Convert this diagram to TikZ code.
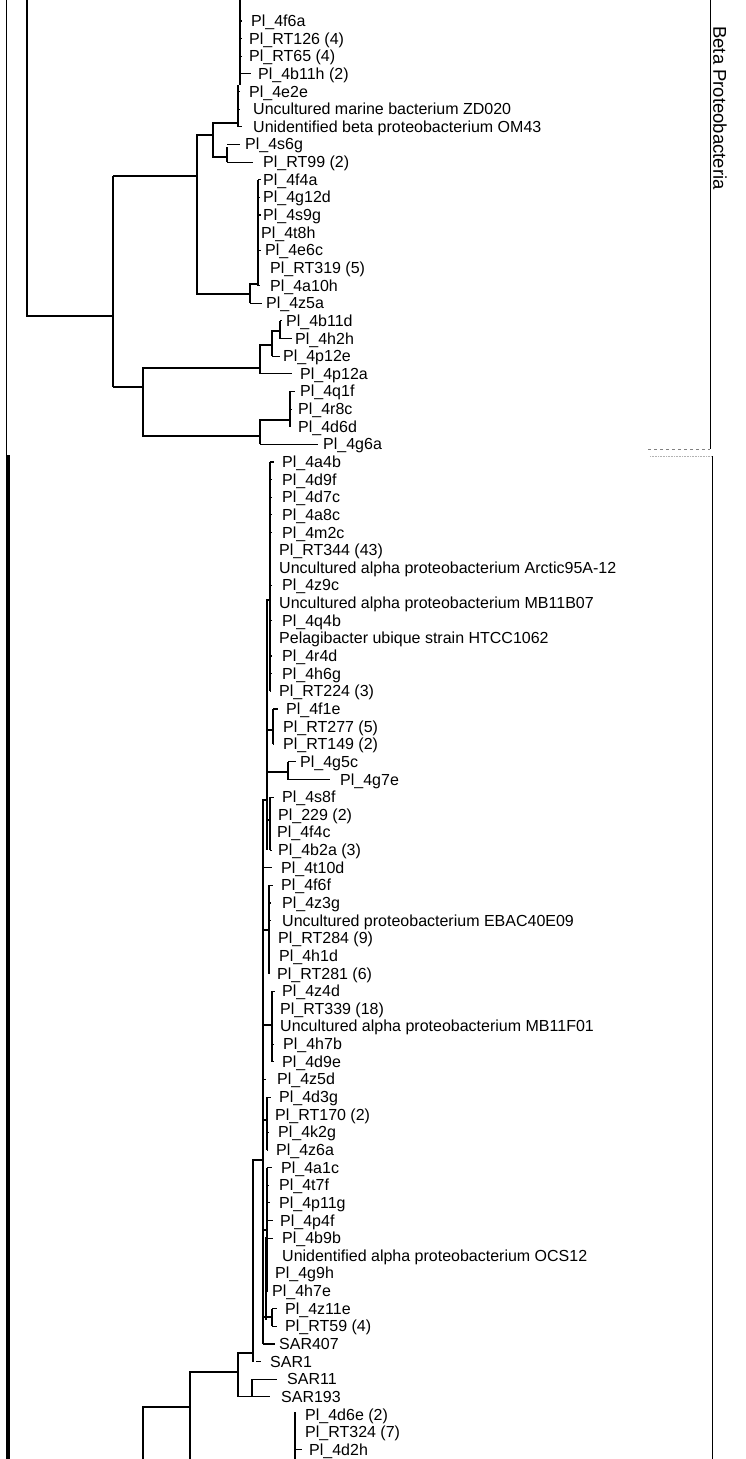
\documentclass[tikz,border=0pt]{standalone}
\usepackage{fontspec}
\setmainfont{Liberation Sans}
\newcommand\leaffont{\fontsize{16}{18}\selectfont}
% name, row, branch start x, branch end x, text x, text
\newcommand\tleaf[6]{\node[leaf] (#1) at (#5,{21+17.64*(#2)}) {#6};\draw[br] (#3,{21+17.64*(#2)}) -- (#4,{21+17.64*(#2)});}
\begin{document}
\begin{tikzpicture}[x=1pt,y=-1pt,
  br/.style={line width=1.1pt},
  leaf/.style={anchor=west,inner xsep=0pt,inner ysep=0pt,text height=11pt,text depth=0pt,font=\leaffont}]
\useasboundingbox (0,0) rectangle (746,1459);
\clip (0,0) rectangle (746,1459);
\fill[white] (0,0) rectangle (746,1459);
% left edge lines
\draw[line width=1pt] (6,0) -- (6,455);
\draw[line width=4.5pt] (8,455) -- (8,1462);
% right brackets
\draw[line width=0.8pt] (710,0) -- (710,449);
\draw[gray,dashed,line width=0.8pt] (648,449) -- (710,449);
\draw[gray!60,densely dotted,line width=0.6pt] (650,456) -- (712,456);
\draw[line width=0.8pt] (712,456) -- (712,1462);
\node[rotate=-90,font=\fontsize{18.5}{20}\selectfont] (beta) at (720,108) {Beta Proteobacteria};
% ---------------- Beta part: internal branches
\draw[br] (27,-3) -- (27,316) -- (113,316);
\draw[br] (113,176) -- (113,387);
\draw[br] (113,176) -- (197,176);
\draw[br] (213,135) -- (197,135) -- (197,294) -- (250,294);
\draw[br] (238,123) -- (213,123) -- (213,157) -- (227,157);
\draw[br] (227,147) -- (227,162.12);
\draw[br] (240,-3) -- (240,85);
\draw[br] (238,85) -- (238,126.84);
\draw[br] (258,284) -- (250,284) -- (250,303.24);
\draw[br] (258,179.76) -- (258,285.6);
\draw[br] (113,387) -- (143,387);
\draw[br] (260,368) -- (143,368) -- (143,436) -- (260,436);
\draw[br] (272,345) -- (260,345) -- (260,373.8);
\draw[br] (280,331) -- (272,331) -- (272,356.16);
\draw[br] (280,320.88) -- (280,338.52);
\draw[br] (290,420) -- (260,420) -- (260,444.36);
\draw[br] (290,391.44) -- (290,426.72);
% Beta leaves
\tleaf{l0}{0}{240}{242}{251}{Pl\_4f6a}
\tleaf{l1}{1}{240}{242}{249}{Pl\_RT126 (4)}
\tleaf{l2}{2}{240}{242}{249}{Pl\_RT65 (4)}
\tleaf{l3}{3}{240}{251}{258}{Pl\_4b11h (2)}
\tleaf{l4}{4}{238}{240}{249}{Pl\_4e2e}
\tleaf{l5}{5}{238}{240}{253}{Uncultured marine bacterium ZD020}
\tleaf{l6}{6}{238}{242}{253}{Unidentified beta proteobacterium OM43}
\tleaf{l7}{7}{227}{240}{245}{Pl\_4s6g}
\tleaf{l8}{8}{227}{253}{263}{Pl\_RT99 (2)}
\tleaf{l9}{9}{258}{261}{263}{Pl\_4f4a}
\tleaf{l10}{10}{258}{260}{263}{Pl\_4g12d}
\tleaf{l11}{11}{258}{261}{263}{Pl\_4s9g}
\tleaf{l12}{12}{258}{259}{261}{Pl\_4t8h}
\tleaf{l13}{13}{258}{261}{265}{Pl\_4e6c}
\tleaf{l14}{14}{258}{259}{270}{Pl\_RT319 (5)}
\tleaf{l15}{15}{258}{260}{270}{Pl\_4a10h}
\tleaf{l16}{16}{250}{262}{266}{Pl\_4z5a}
\tleaf{l17}{17}{280}{282}{286}{Pl\_4b11d}
\tleaf{l18}{18}{280}{292}{295}{Pl\_4h2h}
\tleaf{l19}{19}{272}{280}{283}{Pl\_4p12e}
\tleaf{l20}{20}{260}{292}{300}{Pl\_4p12a}
\tleaf{l21}{21}{290}{295}{300}{Pl\_4q1f}
\tleaf{l22}{22}{290}{292}{298}{Pl\_4r8c}
\tleaf{l23}{23}{290}{291}{298}{Pl\_4d6d}
\tleaf{l24}{24}{260}{318}{323}{Pl\_4g6a}
% ---------------- Alpha part: internal branches
\draw[br] (270,462) -- (270,691.3);
\draw[br] (270,600) -- (267,600) -- (267,850);
\draw[br] (267,730) -- (273,730);
\draw[br] (273,709) -- (273,744.2);
\draw[br] (267,772) -- (288,772);
\draw[br] (288,762.1) -- (288,779.8);
\draw[br] (267,820) -- (270,820);
\draw[br] (270,797.2) -- (270,850);
\draw[br] (267,800) -- (263,800) -- (263,1344);
\draw[br] (263,930) -- (269,930);
\draw[br] (269,885.4) -- (269,973.6);
\draw[br] (263,1025) -- (272,1025);
\draw[br] (272,991) -- (272,1061.8);
\draw[br] (263,1120) -- (267,1120);
\draw[br] (267,1097) -- (267,1150);
\draw[br] (263,1230) -- (267,1230);
\draw[line width=2pt] (266,1237) -- (266,1320);
\draw[br] (267,1167.6) -- (267,1291);
\draw[br] (263,1317) -- (272,1317);
\draw[br] (272,1308.7) -- (272,1326.4);
\draw[br] (263,1160) -- (253,1160) -- (253,1361.6);
\draw[br] (253,1353) -- (238,1353) -- (238,1396.9) -- (252,1396.9);
\draw[br] (252,1379.3) -- (252,1396.9);
\draw[br] (238,1372) -- (190,1372) -- (190,1462);
\draw[br] (190,1407) -- (143,1407) -- (143,1462);
\draw[line width=1.6pt] (295,1412) -- (295,1462);
% Alpha leaves
\tleaf{l25}{25}{270}{274}{282}{Pl\_4a4b}
\tleaf{l26}{26}{270}{272}{282}{Pl\_4d9f}
\tleaf{l27}{27}{270}{272}{282}{Pl\_4d7c}
\tleaf{l28}{28}{270}{272}{282}{Pl\_4a8c}
\tleaf{l29}{29}{270}{272}{282}{Pl\_4m2c}
\tleaf{l30}{30}{270}{271}{279}{Pl\_RT344 (43)}
\tleaf{l31}{31}{270}{271}{279}{Uncultured alpha proteobacterium Arctic95A-12}
\tleaf{l32}{32}{270}{272}{282}{Pl\_4z9c}
\tleaf{l33}{33}{270}{271}{279}{Uncultured alpha proteobacterium MB11B07}
\tleaf{l34}{34}{270}{272}{282}{Pl\_4q4b}
\tleaf{l35}{35}{270}{271}{279}{Pelagibacter ubique strain HTCC1062}
\tleaf{l36}{36}{270}{272}{282}{Pl\_4r4d}
\tleaf{l37}{37}{270}{272}{282}{Pl\_4h6g}
\tleaf{l38}{38}{270}{271}{279}{Pl\_RT224 (3)}
\tleaf{l39}{39}{273}{278}{286}{Pl\_4f1e}
\tleaf{l40}{40}{273}{274}{283}{Pl\_RT277 (5)}
\tleaf{l41}{41}{273}{274}{283}{Pl\_RT149 (2)}
\tleaf{l42}{42}{288}{296}{300}{Pl\_4g5c}
\tleaf{l43}{43}{288}{330}{340}{Pl\_4g7e}
\tleaf{l44}{44}{270}{274}{282}{Pl\_4s8f}
\tleaf{l45}{45}{270}{271}{278}{Pl\_229 (2)}
\tleaf{l46}{46}{270}{271}{277}{Pl\_4f4c}
\tleaf{l47}{47}{270}{272}{278}{Pl\_4b2a (3)}
\tleaf{l48}{48}{263}{272}{281}{Pl\_4t10d}
\tleaf{l49}{49}{269}{273}{281}{Pl\_4f6f}
\tleaf{l50}{50}{269}{271}{282}{Pl\_4z3g}
\tleaf{l51}{51}{269}{271}{282}{Uncultured proteobacterium EBAC40E09}
\tleaf{l52}{52}{269}{270}{278}{Pl\_RT284 (9)}
\tleaf{l53}{53}{269}{270}{279}{Pl\_4h1d}
\tleaf{l54}{54}{269}{270}{277}{Pl\_RT281 (6)}
\tleaf{l55}{55}{272}{275}{282}{Pl\_4z4d}
\tleaf{l56}{56}{272}{273}{280}{Pl\_RT339 (18)}
\tleaf{l57}{57}{272}{273}{280}{Uncultured alpha proteobacterium MB11F01}
\tleaf{l58}{58}{272}{274}{283}{Pl\_4h7b}
\tleaf{l59}{59}{272}{274}{282}{Pl\_4d9e}
\tleaf{l60}{60}{263}{266}{277}{Pl\_4z5d}
\tleaf{l61}{61}{267}{271}{279}{Pl\_4d3g}
\tleaf{l62}{62}{267}{268}{275}{Pl\_RT170 (2)}
\tleaf{l63}{63}{267}{269}{278}{Pl\_4k2g}
\tleaf{l64}{64}{267}{268}{276}{Pl\_4z6a}
\tleaf{l65}{65}{267}{272}{281}{Pl\_4a1c}
\tleaf{l66}{66}{267}{269}{279}{Pl\_4t7f}
\tleaf{l67}{67}{267}{270}{279}{Pl\_4p11g}
\tleaf{l68}{68}{267}{273}{280}{Pl\_4p4f}
\tleaf{l69}{69}{267}{273}{282}{Pl\_4b9b}
\tleaf{l70}{70}{267}{268}{282}{Unidentified alpha proteobacterium OCS12}
\tleaf{l71}{71}{267}{268}{275}{Pl\_4g9h}
\tleaf{l72}{72}{267}{268}{272}{Pl\_4h7e}
\tleaf{l73}{73}{272}{277}{285}{Pl\_4z11e}
\tleaf{l74}{74}{272}{277}{285}{Pl\_RT59 (4)}
\tleaf{l75}{75}{263}{275}{279}{SAR407}
\tleaf{l76}{76}{256}{261}{270}{SAR1}
\tleaf{l77}{77}{252}{277}{287}{SAR11}
\tleaf{l78}{78}{252}{270}{281}{SAR193}
\tleaf{l79}{79}{295}{296}{305}{Pl\_4d6e (2)}
\tleaf{l80}{80}{295}{296}{305}{Pl\_RT324 (7)}
\tleaf{l81}{81}{295}{302}{309}{Pl\_4d2h}
\end{tikzpicture}
\end{document}
